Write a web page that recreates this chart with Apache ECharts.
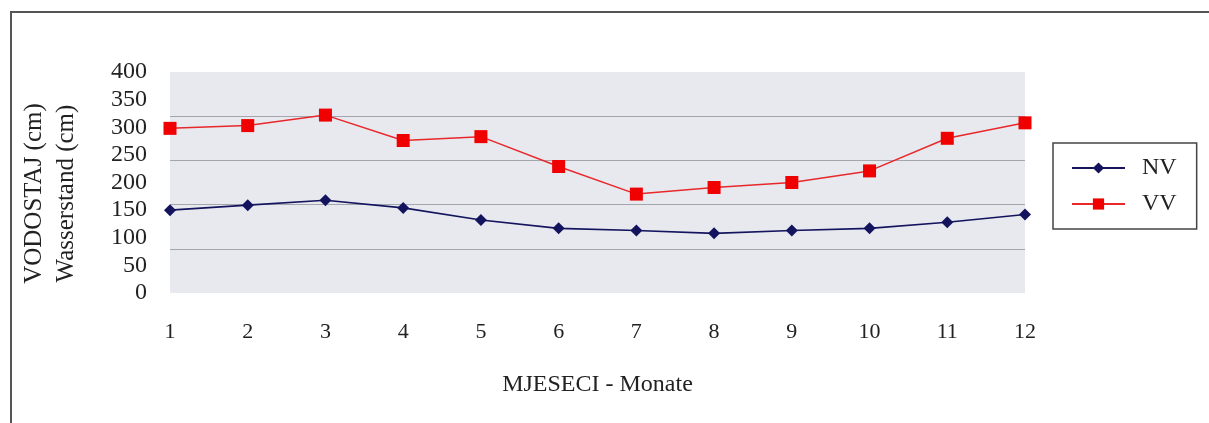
<!DOCTYPE html>
<html>
<head>
<meta charset="utf-8">
<script src="https://cdn.jsdelivr.net/npm/echarts@6/dist/echarts.min.js"></script>
<style>
  html, body { margin: 0; padding: 0; background: #fff; }
  #chart { width: 1209px; height: 423px; }
</style>
</head>
<body>
<div id="chart"></div>
<script>
const months = ['1', '2', '3', '4', '5', '6', '7', '8', '9', '10', '11', '12'];
const nv = [150, 159, 168, 154, 132, 117, 113, 108, 113, 117, 128, 142];
const vv = [298, 303, 322, 276, 283, 229, 179, 191, 200, 221, 280, 308];
const yTicks = [0, 50, 100, 150, 200, 250, 300, 350, 400];

const serif = '"Liberation Serif", "DejaVu Serif", serif';
const chart = echarts.init(document.getElementById('chart'));

chart.setOption({
    animation: false,
    textStyle: { fontFamily: serif, color: '#222' },
    grid: {
        left: 170,
        right: 184,
        top: 72,
        bottom: 130,
        show: true,
        backgroundColor: '#e7e9ef',
        borderWidth: 0
    },
    legend: {
        orient: 'vertical',
        left: 1053,
        top: 143,
        padding: [13, 20, 13, 18],
        itemWidth: 53,
        itemHeight: 14,
        itemGap: 12,
        borderColor: '#444',
        borderWidth: 1.5,
        textStyle: { fontFamily: serif, fontSize: 24, color: '#222', padding: [0, 0, 0, 12] },
        data: ['NV', 'VV']
    },
    xAxis: {
        type: 'category',
        data: months,
        boundaryGap: false,
        name: 'MJESECI - Monate',
        nameLocation: 'middle',
        nameGap: 80,
        nameTextStyle: { fontFamily: serif, fontSize: 24, color: '#222' },
        axisLine: { show: false },
        axisTick: { show: false },
        axisLabel: { fontFamily: serif, fontSize: 22, color: '#222', margin: 28 },
        splitLine: { show: false }
    },
    yAxis: [
        {
            type: 'value',
            min: yTicks[0],
            max: yTicks[yTicks.length - 1],
            interval: 50,
            name: 'VODOSTAJ (cm)\nWasserstand (cm)',
            nameLocation: 'middle',
            nameRotate: 90,
            nameGap: 88,
            nameTextStyle: {
                fontFamily: serif, fontSize: 25, color: '#222', lineHeight: 32,
                padding: [0, 22, 0, 0]
            },
            axisLine: { show: false },
            axisTick: { show: false },
            axisLabel: { fontFamily: serif, fontSize: 24, color: '#222', margin: 23 },
            splitLine: { show: false }
        },
        {
            // gridlines of the original are spaced at 80 cm
            type: 'value',
            min: 0,
            max: 400,
            interval: 80,
            position: 'left',
            axisLine: { show: false },
            axisTick: { show: false },
            axisLabel: { show: false },
            splitLine: {
                show: true,
                showMinLine: false,
                showMaxLine: false,
                lineStyle: { color: '#a4a6ae', width: 1.2 }
            }
        }
    ],
    series: [
        {
            name: 'NV',
            type: 'line',
            data: nv,
            symbol: 'diamond',
            symbolSize: 12,
            lineStyle: { color: '#14145e', width: 1.6 },
            itemStyle: { color: '#14145e' }
        },
        {
            name: 'VV',
            type: 'line',
            data: vv,
            symbol: 'rect',
            symbolSize: 13,
            lineStyle: { color: '#e8282a', width: 1.5 },
            itemStyle: { color: '#f00000' }
        }
    ],
    graphic: [
        {
            type: 'polyline',
            shape: { points: [[11, 423], [11, 12], [1209, 12]] },
            style: { stroke: '#555', lineWidth: 2, fill: null }
        }
    ]
});
</script>
</body>
</html>
